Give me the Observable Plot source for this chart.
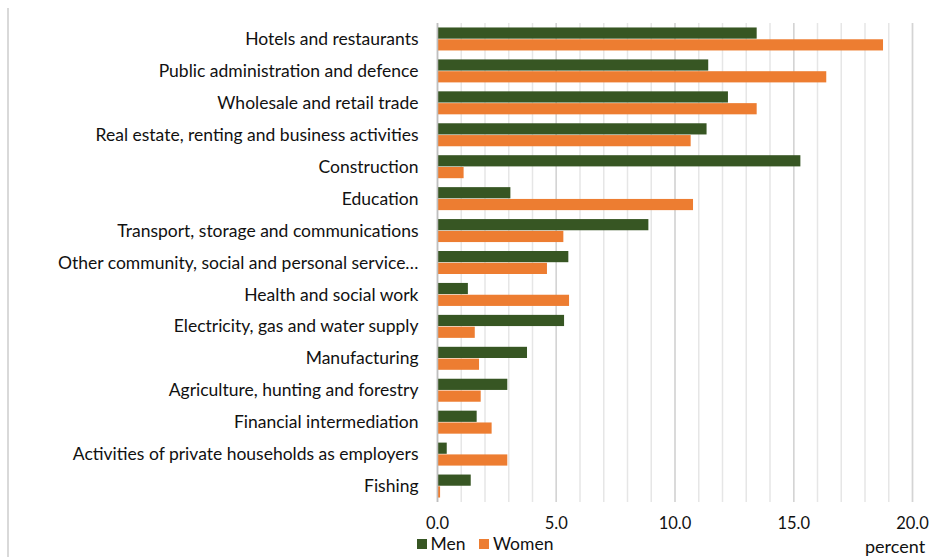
<!DOCTYPE html>
<html>
<head>
<meta charset="utf-8">
<script src="https://cdn.jsdelivr.net/npm/d3@7"></script>
<script src="https://cdn.jsdelivr.net/npm/@observablehq/plot@0.6"></script>
<style>
  html, body { margin: 0; padding: 0; background: #fff; }
  #wrap { position: relative; width: 932px; height: 557px; font-family: Lato, "Noto Sans", sans-serif; color: #111; }
  #chart svg { display: block; }
  #border { position: absolute; left: 7px; top: 8px; width: 1.5px; bottom: 0; background: #d9d9d9; }
  #legend { position: absolute; left: 417px; top: 537px; font-size: 17.5px; line-height: 14px; display: flex; align-items: center; }
  .sw { display: inline-block; width: 9.5px; height: 9.5px; margin-right: 4px; }
  #unit { position: absolute; left: 865px; top: 537px; font-size: 18px; line-height: 18px; }
</style>
</head>
<body>
<div id="wrap">
  <div id="border"></div>
  <div id="chart"></div>
  <div id="legend"></div>
  <div id="unit"></div>
</div>
<script>
const categories = [
  "Hotels and restaurants",
  "Public administration and defence",
  "Wholesale and retail trade",
  "Real estate, renting and business activities",
  "Construction",
  "Education",
  "Transport, storage and communications",
  "Other community, social and personal service\u2026",
  "Health and social work",
  "Electricity, gas and water supply",
  "Manufacturing",
  "Agriculture, hunting and forestry",
  "Financial intermediation",
  "Activities of private households as employers",
  "Fishing"
];
const men   = [13.46, 11.42, 12.25, 11.35, 15.30, 3.09, 8.90, 5.53, 1.30, 5.35, 3.79, 2.96, 1.67, 0.41, 1.42];
const women = [18.78, 16.39, 13.46, 10.68, 1.12, 10.78, 5.32, 4.63, 5.56, 1.59, 1.77, 1.84, 2.30, 2.96, 0.13];
const seriesNames = ["Men", "Women"];
const seriesColors = ["#375623", "#ED7D31"];
const xTicks = [0, 5, 10, 15, 20];
const unitLabel = "percent";

const rows = categories.map((c, i) => ({category: c, men: men[i], women: women[i]}));

const chart = Plot.plot({
  width: 932,
  height: 557,
  marginLeft: 437,
  marginRight: 20,
  marginTop: 23,
  marginBottom: 55,
  style: {fontFamily: "Lato, 'Noto Sans', sans-serif", fontSize: "16px", color: "#111", background: "#fff"},
  x: {domain: [0, 20]},
  y: {domain: categories, paddingInner: 0.28, paddingOuter: 0.14, round: false},
  marks: [
    Plot.gridX({ticks: 20, stroke: "#e6e6e6", strokeOpacity: 1, strokeWidth: 1.5}),
    Plot.gridX(xTicks, {stroke: "#d4d4d4", strokeOpacity: 1, strokeWidth: 1.5}),
    Plot.barX(rows, {x: "men", y: "category", fill: seriesColors[0], insetBottom: 11.8}),
    Plot.barX(rows, {x: "women", y: "category", fill: seriesColors[1], insetTop: 11.8}),
    Plot.ruleX([0], {stroke: "#bfbfbf", strokeWidth: 1.5}),
    Plot.axisY({tickSize: 0, tickPadding: 19, label: null, fontSize: 17.5}),
    Plot.axisX(xTicks, {tickSize: 0, tickPadding: 15, tickFormat: d3.format(".1f"), label: null, fontSize: 16.5})
  ]
});
document.getElementById("chart").appendChild(chart);

const legend = document.getElementById("legend");
seriesNames.forEach((n, i) => {
  const item = document.createElement("span");
  item.style.marginRight = "14px";
  item.style.display = "inline-flex";
  item.style.alignItems = "center";
  item.innerHTML = `<span class="sw" style="background:${seriesColors[i]}"></span>${n}`;
  legend.appendChild(item);
});
document.getElementById("unit").textContent = unitLabel;
</script>
</body>
</html>
